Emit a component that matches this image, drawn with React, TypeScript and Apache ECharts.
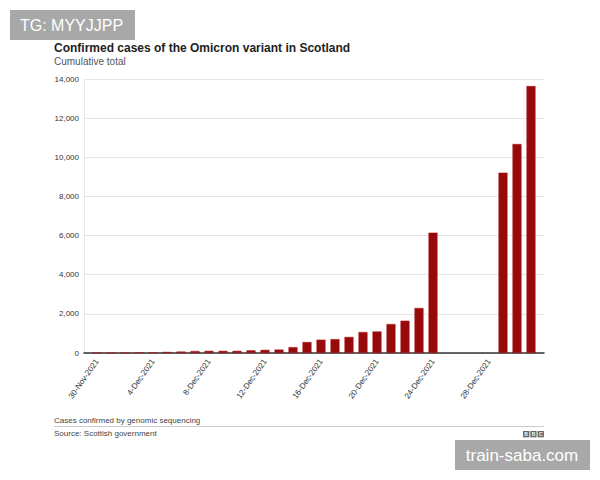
import React, { useEffect, useRef } from "react";
import * as echarts from "echarts";

const categories: string[] = [
  "30-Nov-2021", "1-Dec-2021", "2-Dec-2021", "3-Dec-2021", "4-Dec-2021", "5-Dec-2021",
  "6-Dec-2021", "7-Dec-2021", "8-Dec-2021", "9-Dec-2021", "10-Dec-2021", "11-Dec-2021",
  "12-Dec-2021", "13-Dec-2021", "14-Dec-2021", "15-Dec-2021", "16-Dec-2021", "17-Dec-2021",
  "18-Dec-2021", "19-Dec-2021", "20-Dec-2021", "21-Dec-2021", "22-Dec-2021", "23-Dec-2021",
  "24-Dec-2021", "25-Dec-2021", "26-Dec-2021", "27-Dec-2021", "28-Dec-2021", "29-Dec-2021",
  "30-Dec-2021", "31-Dec-2021",
];

const cases: (number | null)[] = [
  9, 10, 13, 29, 30, 55, 75, 100, 109, 110, 110, 135,
  160, 175, 300, 560, 680, 710, 820, 1070, 1100, 1480, 1650, 2300,
  6150, null, null, null, null, 9215, 10680, 13640,
];

const labelIndices: number[] = [0, 4, 8, 12, 16, 20, 24, 28];
const yTicks = { min: 0, max: 14000, interval: 2000 };

const FONT = "'Liberation Sans', Arial, Helvetica, sans-serif";

export default function App() {
  const ref = useRef<HTMLDivElement>(null);

  useEffect(() => {
    if (!ref.current) return;
    const chart = echarts.init(ref.current, null, { renderer: "svg" });
    const data = cases
      .map((v, i) => (v === null ? null : [i, v]))
      .filter((d) => d !== null);

    chart.setOption({
      animation: false,
      backgroundColor: "#ffffff",
      textStyle: { fontFamily: FONT },
      grid: { left: 84, right: 56, top: 79, bottom: 127, containLabel: false },
      xAxis: {
        type: "value",
        min: -0.5 - 6 / 14,
        max: categories.length - 0.5 + 6 / 14,
        splitLine: { show: false },
        axisTick: { show: false },
        axisLine: { show: true, onZero: false, lineStyle: { color: "#333333", width: 1.5 } },
        axisLabel: {
          customValues: labelIndices,
          rotate: 55,
          margin: 7,
          fontSize: 8,
          color: "#333333",
          fontFamily: FONT,
          formatter: (v: number) => categories[Math.round(v)] ?? "",
        },
      },
      yAxis: {
        type: "value",
        min: yTicks.min,
        max: yTicks.max,
        interval: yTicks.interval,
        axisLine: { show: true, onZero: false, lineStyle: { color: "#e8e8e8", width: 1 } },
        axisTick: { show: false },
        splitLine: { show: true, lineStyle: { color: "#e6e6e6", width: 1 } },
        axisLabel: {
          margin: 5,
          fontSize: 8,
          color: "#333333",
          fontFamily: FONT,
          formatter: (v: number) => v.toLocaleString("en-US"),
        },
      },
      series: [
        {
          type: "bar",
          data,
          barWidth: 9,
          itemStyle: { color: "#960a0c", borderColor: "#b01515", borderWidth: 0.5 },
        },
      ],
      graphic: [
        {
          type: "rect",
          shape: { x: 10, y: 10, width: 125, height: 30 },
          style: { fill: "#a8a8a8" },
        },
        {
          type: "text",
          x: 20,
          y: 25,
          style: {
            text: "TG: MYYJJPP",
            fill: "#ffffff",
            font: `16px ${FONT}`,
            textVerticalAlign: "middle",
          },
        },
        {
          type: "text",
          x: 54,
          y: 48,
          style: {
            text: "Confirmed cases of the Omicron variant in Scotland",
            fill: "#222222",
            font: `bold 12px ${FONT}`,
            textVerticalAlign: "middle",
          },
        },
        {
          type: "text",
          x: 54,
          y: 61,
          style: {
            text: "Cumulative total",
            fill: "#555555",
            font: `10px ${FONT}`,
            textVerticalAlign: "middle",
          },
        },
        {
          type: "text",
          x: 54,
          y: 420,
          style: {
            text: "Cases confirmed by genomic sequencing",
            fill: "#444444",
            font: `8px ${FONT}`,
            textVerticalAlign: "middle",
          },
        },
        {
          type: "line",
          shape: { x1: 54, y1: 426.5, x2: 544, y2: 426.5 },
          style: { stroke: "#cccccc", lineWidth: 1 },
        },
        {
          type: "text",
          x: 54,
          y: 433,
          style: {
            text: "Source: Scottish government",
            fill: "#444444",
            font: `8px ${FONT}`,
            textVerticalAlign: "middle",
          },
        },
        ...["B", "B", "C"].flatMap((ch, i) => [
          {
            type: "rect",
            shape: { x: 523 + i * 7.3, y: 431, width: 6.3, height: 6.3 },
            style: { fill: "#666666" },
          },
          {
            type: "text",
            x: 523 + i * 7.3 + 3.15,
            y: 434.3,
            style: {
              text: ch,
              fill: "#ffffff",
              font: `bold 5px ${FONT}`,
              textAlign: "center",
              textVerticalAlign: "middle",
            },
          },
        ]),
        {
          type: "rect",
          shape: { x: 455, y: 440, width: 135, height: 30 },
          style: { fill: "#a8a8a8" },
        },
        {
          type: "text",
          x: 522,
          y: 455,
          style: {
            text: "train-saba.com",
            fill: "#ffffff",
            font: `17px ${FONT}`,
            textAlign: "center",
            textVerticalAlign: "middle",
          },
        },
      ],
    });

    return () => chart.dispose();
  }, []);

  return (
    <div
      ref={ref}
      style={{ position: "absolute", left: 0, top: 0, width: 600, height: 480 }}
    />
  );
}
